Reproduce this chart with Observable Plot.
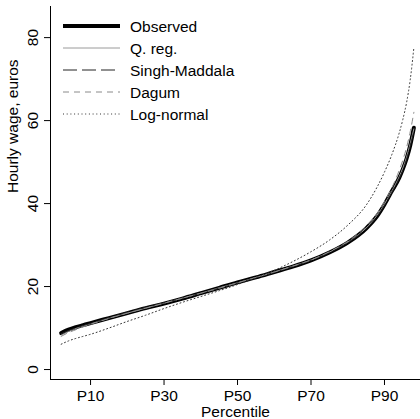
<!DOCTYPE html>
<html><head><meta charset="utf-8">
<script src="https://cdn.jsdelivr.net/npm/d3@7"></script>
<script src="https://cdn.jsdelivr.net/npm/@observablehq/plot@0.6"></script>
<style>
html,body{margin:0;padding:0;background:#fff;}
#wrap{position:relative;width:420px;height:419px;overflow:hidden;}
#legend{position:absolute;left:0;top:0;pointer-events:none;}
</style></head><body><div id="wrap"></div>
<script>
// Data
const percentiles  = [2,4,6,8,10,15,20,25,30,35,40,45,50,55,60,65,70,75,80,85,88,90,92,94,95,96,97,98];
const observed     = [8.8,9.6,10.2,10.7,11.2,12.4,13.6,14.8,15.9,17.1,18.4,19.7,21.0,22.2,23.5,24.8,26.3,28.2,30.6,34.0,37.0,39.8,43.0,46.2,48.3,50.8,54.0,58.3];
const qReg         = [8.3,9.2,9.9,10.5,11.0,12.4,13.6,14.8,16.0,17.2,18.4,19.7,20.9,22.2,23.5,24.9,26.4,28.3,30.7,34.1,37.2,39.9,43.0,46.5,48.6,51.2,54.5,58.0];
const singhMaddala = [8.6,9.4,10.0,10.6,11.1,12.5,13.8,15.0,16.1,17.2,18.4,19.6,20.8,22.1,23.4,24.8,26.3,28.2,30.6,33.9,36.9,39.6,42.7,46.0,48.0,50.6,53.8,57.5];
const dagum        = [8.0,8.9,9.6,10.3,10.9,12.3,13.6,14.8,16.0,17.2,18.4,19.6,20.9,22.2,23.5,24.9,26.4,28.4,30.9,34.5,37.6,40.5,43.8,48.0,50.5,53.5,57.3,62.0];
const logNormal    = [6.1,6.9,7.5,8.0,8.5,10.0,11.6,13.1,14.7,16.2,17.6,19.0,20.5,22.1,23.9,26.0,28.4,31.2,34.8,39.6,44.0,47.6,51.8,57.0,60.3,64.3,69.8,77.6];
const seriesNames  = ["Observed","Q. reg.","Singh-Maddala","Dagum","Log-normal"];
const seriesValues = [observed, qReg, singhMaddala, dagum, logNormal];
const yTicks       = [0,20,40,60,80];
const xTicks       = [10,30,50,70,90];
const xTickLabels  = ["P10","P30","P50","P70","P90"];
const xTitle = "Percentile";
const yTitle = "Hourly wage, euros";

// Styles
const seriesColors = ["#000000","#9a9a9a","#222222","#8a8a8a","#333333"];
const seriesWidths = [4,1,1,1,1];
const seriesDashes = [null,null,"14,5","6,5","1,2.7"];

const rows = [];
seriesValues.forEach((vals, s) => vals.forEach((v, i) => rows.push({series: seriesNames[s], p: percentiles[i], v})));

const font = "'Liberation Sans', Arial, Helvetica, sans-serif";
const fs = 15.5;
const xDomain = [-0.9, 99.8];
const yDomain = [-2.4, 87.5];

const marks = [];
seriesNames.forEach((name, s) => {
  marks.push(Plot.line(rows.filter(r => r.series === name), {
    x: "p", y: "v", stroke: seriesColors[s], strokeWidth: seriesWidths[s],
    strokeDasharray: seriesDashes[s] || undefined, curve: "monotone-x"
  }));
});
marks.push(
  Plot.ruleX([xDomain[0]], {stroke: "#000"}),
  Plot.ruleY([yDomain[0]], {stroke: "#000"}),
  Plot.axisX(xTicks, {tickSize: 6, tickPadding: 4, tickFormat: d => xTickLabels[xTicks.indexOf(d)], fontSize: fs, label: null}),
  Plot.axisY(yTicks, {tickSize: 6, tickPadding: 7, tickRotate: -90, fontSize: fs, label: null}),
  Plot.text([xTitle], {frameAnchor: "bottom", dy: 37.7, lineAnchor: "bottom", fontSize: fs}),
  Plot.text([yTitle], {frameAnchor: "left", dx: -33, rotate: -90, lineAnchor: "bottom", fontSize: fs})
);

const chart = Plot.plot({
  width: 420, height: 419,
  marginLeft: 50, marginRight: 0, marginTop: 6, marginBottom: 40,
  x: {domain: xDomain},
  y: {domain: yDomain},
  style: {fontFamily: font, fontSize: fs + "px", background: "#fff", color: "#000"},
  marks
});
const wrap = document.getElementById("wrap");
wrap.appendChild(chart);

// Legend (inside plot, top-left)
const ns = "http://www.w3.org/2000/svg";
const lg = document.createElementNS(ns, "svg");
lg.setAttribute("id", "legend");
lg.setAttribute("width", 420); lg.setAttribute("height", 140);
seriesNames.forEach((name, s) => {
  const y = 26 + s * 22;
  const ln = document.createElementNS(ns, "line");
  ln.setAttribute("x1", 63); ln.setAttribute("x2", 120);
  ln.setAttribute("y1", y); ln.setAttribute("y2", y);
  ln.setAttribute("stroke", seriesColors[s]);
  ln.setAttribute("stroke-width", seriesWidths[s]);
  if (seriesDashes[s]) ln.setAttribute("stroke-dasharray", seriesDashes[s]);
  lg.appendChild(ln);
  const t = document.createElementNS(ns, "text");
  t.setAttribute("x", 130); t.setAttribute("y", y);
  t.setAttribute("dy", "0.36em");
  t.setAttribute("font-family", font); t.setAttribute("font-size", fs);
  t.setAttribute("fill", "#000");
  t.textContent = name;
  lg.appendChild(t);
});
wrap.appendChild(lg);
</script></body></html>
